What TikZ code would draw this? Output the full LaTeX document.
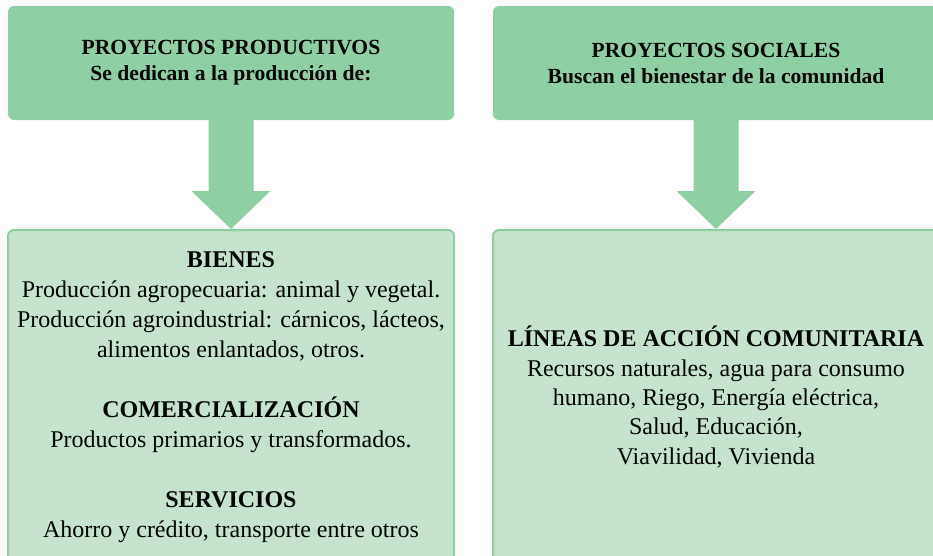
\documentclass[tikz,border=0pt]{standalone}
\usepackage{fontspec}
\setmainfont{LiberationSerif}[Extension=.ttf, UprightFont=*-Regular, BoldFont=*-Bold,
  ItalicFont=*-Italic, BoldItalicFont=*-BoldItalic]
\usetikzlibrary{calc}
\definecolor{verdeosc}{HTML}{8ECFA3}
\definecolor{verdecla}{HTML}{C5E3CD}
\tikzset{
  titulo/.style={fill=verdeosc, rounded corners=6pt, minimum width=446pt, minimum height=114pt,
    inner sep=0pt, align=center, font=\fontsize{21.6}{26}\selectfont\bfseries},
  cuadro/.style={fill=verdecla, draw=verdeosc, line width=2pt, rounded corners=6pt,
    minimum width=446pt, minimum height=334pt, inner sep=0pt, align=center,
    font=\fontsize{24}{30}\selectfont},
  flecha/.style={fill=verdeosc}
}

\begin{document}
\begin{tikzpicture}[x=1pt,y=-1pt]
        \useasboundingbox (0,0) rectangle (933,555);
        \clip (0,0) rectangle (933,555);
        \node[titulo] (prod) at (231,63) {PROYECTOS PRODUCTIVOS\\Se dedican a la producción de:};
        \node[titulo] (soc) at (716,63) {PROYECTOS SOCIALES\\Buscan el bienestar de la comunidad};
        \node[cuadro] (bienes) at (231,397) {\textbf{BIENES}\\
          Producción agropecuaria: animal y vegetal.\\
          Producción agroindustrial: cárnicos, lácteos,\\
          alimentos enlantados, otros.\\[30pt]
          \textbf{COMERCIALIZACIÓN}\\
          Productos primarios y transformados.\\[30pt]
          \textbf{SERVICIOS}\\
          Ahorro y crédito, transporte entre otros};
        \node[cuadro, font=\fontsize{24}{29.3}\selectfont] (lineas) at (716,397) {\textbf{LÍNEAS DE ACCIÓN COMUNITARIA}\\
          Recursos naturales, agua para consumo\\
          humano, Riego, Energía eléctrica,\\
          Salud, Educación,\\
          Viavilidad, Vivienda};
        \foreach \a/\b in {prod/bienes,soc/lineas}
          \fill[flecha] ($(\a.south)+(-22.5,0)$) -- ($(\b.north)+(-22.5,-38)$) -- ++(-17,0)
            -- (\b.north) -- ($(\b.north)+(39.5,-38)$) -- ++(-17,0)
            -- ($(\a.south)+(22.5,0)$) -- cycle;
    \end{tikzpicture}
\end{document}
